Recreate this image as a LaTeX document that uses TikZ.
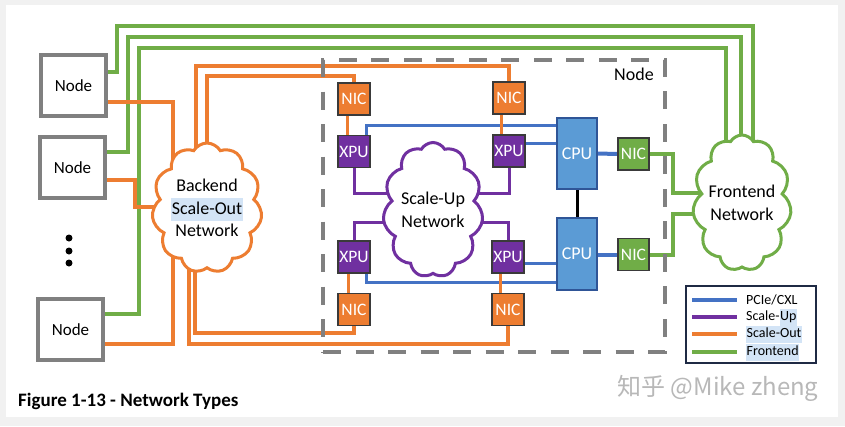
\documentclass[tikz,border=0pt]{standalone}
\usepackage{fontspec}
\setmainfont{Carlito}
\newfontfamily\cjk{Noto Sans CJK SC}
\usetikzlibrary{shapes.symbols,backgrounds}
\definecolor{ora}{HTML}{ED7D31}
\definecolor{grn}{HTML}{70AD47}
\definecolor{blu}{HTML}{4472C4}
\definecolor{pur}{HTML}{7030A0}
\definecolor{cpublue}{HTML}{5B9BD5}
\definecolor{cpuborder}{HTML}{2F5597}
\definecolor{chipborder}{HTML}{3A3A3A}
\definecolor{nodegray}{HTML}{808080}
\definecolor{legborder}{HTML}{1F2A44}
\definecolor{hl}{HTML}{D3E4F6}
\definecolor{outerbg}{HTML}{F1F1F1}
\definecolor{wmgray}{HTML}{B8B8B8}
\newcommand\hlt[1]{{\setlength{\fboxsep}{0.5pt}\colorbox{hl}{\strut #1}}}
\begin{document}
\begin{tikzpicture}[x=1pt,y=-1pt,
  nodebox/.style={draw=nodegray,line width=3.5pt,fill=white,minimum width=65pt,minimum height=61pt,inner sep=0pt,font=\fontsize{17}{20}\selectfont},
  chip/.style={line width=1.4pt,draw=chipborder,text=white,inner sep=0pt,font=\fontsize{17.5}{19}\selectfont,minimum width=32pt,minimum height=32pt},
  nicbox/.style={chip,fill=ora},
  xpubox/.style={chip,fill=pur},
  cpubox/.style={chip,fill=cpublue,draw=cpuborder,minimum width=40pt,minimum height=71pt,font=\fontsize{18}{20}\selectfont},
  gnicbox/.style={chip,fill=grn,minimum width=31pt},
  cloudnet/.style={cloud,cloud puffs=11,cloud puff arc=120,cloud ignores aspect,fill=white,line width=3pt,align=center,inner sep=0pt,font=\fontsize{18}{22.5}\selectfont},
  oline/.style={ora,line width=4pt},
  gline/.style={grn,line width=4pt},
  bline/.style={blu,line width=3pt},
  pline/.style={pur,line width=3pt},
  legtext/.style={anchor=west,inner sep=0pt,font=\fontsize{14}{16}\selectfont},
]
\useasboundingbox (0,0) rectangle (845,426);
% nodes
\node[nodebox] (n1) at (73.5,85.5) {Node};
\node[nodebox] (n2) at (72.5,167.5) {Node};
\node[nodebox] (n3) at (70.5,329.5) {Node};
\node[cloudnet,draw=ora,minimum width=100pt,minimum height=130pt] (bcloud) at (207,208) {Backend\\\hlt{Scale-Out}\\Network};
\node[cloudnet,draw=pur,minimum width=100pt,minimum height=135pt] (ucloud) at (433,210) {Scale-Up\\Network};
\node[cloudnet,draw=grn,minimum width=94pt,minimum height=136pt] (fcloud) at (742,203) {Frontend\\Network};
\node[nicbox] (nictl) at (354,99) {NIC};
\node[nicbox] (nictr) at (509,98) {NIC};
\node[nicbox] (nicbl) at (354,309.5) {NIC};
\node[nicbox] (nicbr) at (508,309.5) {NIC};
\node[xpubox] (xputl) at (354,151.5) {XPU};
\node[xpubox] (xputr) at (509,151) {XPU};
\node[xpubox] (xpubl) at (354,257) {XPU};
\node[xpubox] (xpubr) at (508,257) {XPU};
\node[cpubox] (cput) at (577,153.5) {CPU};
\node[cpubox,minimum height=72pt] (cpub) at (577,254) {CPU};
\node[gnicbox] (gnict) at (633.5,154) {NIC};
\node[gnicbox] (gnicb) at (633.5,254.5) {NIC};
\node[draw=nodegray,line width=4pt,dash pattern=on 18pt off 14.5pt,minimum width=342pt,minimum height=292pt,inner sep=0pt] (frame) at (494,206) {};
\node[font=\fontsize{18}{20}\selectfont,inner sep=0pt] (framelabel) at (634,74) {Node};
% dots
\fill (69,238) circle (3.5pt) (69,251) circle (3.5pt) (69,263) circle (3.5pt);
% legend
\node[draw=legborder,line width=1.5pt,fill=white,minimum width=130pt,minimum height=77pt,inner sep=0pt] (legend) at (751,324.5) {};
\draw[blu,line width=4pt] (692,300) -- (737,300);
\draw[pur,line width=4pt] (692,317) -- (737,317);
\draw[ora,line width=4pt] (692,334) -- (737,334);
\draw[grn,line width=4pt] (692,352) -- (737,352);
\node[legtext] (l1) at (746,300) {PCIe/CXL};
\node[legtext] (l2) at (746,317) {Scale-\hlt{Up}};
\node[legtext] (l3) at (746,334) {\hlt{Scale-Out}};
\node[legtext] (l4) at (746,352) {\hlt{Frontend}};
% caption and watermark
\node[anchor=west,inner sep=0pt,font=\bfseries\fontsize{19}{21}\selectfont] (cap) at (18,401) {Figure 1-13 - Network Types};
\node[text=wmgray,inner sep=0pt,font=\cjk\fontsize{24}{27}\selectfont] (wm) at (718,388) {知乎 @Mike zheng};
\begin{pgfonlayer}{background}
\fill[outerbg] (0,0) rectangle (845,426);
\fill[white] (6,5) rectangle (838,417);
% green frontend lines
\draw[gline] (n1.east |- 0,72) -- (117,72) -- (117,26) -- (753,26) -- (fcloud.center -| 753,0);
\draw[gline] (n2.east |- 0,152) -- (128,152) -- (128,37) -- (741,37) -- (fcloud.center -| 741,0);
\draw[gline] (n3.east |- 0,314) -- (139,314) -- (139,48) -- (726,48) -- (fcloud.center -| 726,0);
\draw[gline] (gnict.east) -- (673,154) -- (673,193) -- (fcloud.center |- 0,193);
\draw[gline] (gnicb.east) -- (673,254.5) -- (673,214) -- (fcloud.center |- 0,214);
% orange scale-out lines
\draw[oline] (n1.east |- 0,102) -- (173,102) -- (bcloud.center -| 173,0);
\draw[oline] (n2.east |- 0,180) -- (135,180) -- (135,207) -- (bcloud.center |- 0,207);
\draw[oline] (n3.east |- 0,344) -- (173,344) -- (bcloud.center -| 173,0);
\draw[oline] (bcloud.center -| 196,0) -- (196,66) -- (509,66) -- (nictr.north);
\draw[oline] (bcloud.center) -- (207,76) -- (354,76) -- (nictl.north);
\draw[oline] (bcloud.center -| 195,0) -- (195,333) -- (354,333) -- (nicbl.south);
\draw[oline] (bcloud.center -| 189,0) -- (189,344) -- (508,344) -- (nicbr.south);
% blue PCIe lines
\draw[bline] ([xshift=12pt]xputl.north) -- (366,125) -- (cput.west |- 0,125);
\draw[bline] (xputr.east |- 0,143) -- (cput.west |- 0,143);
\draw[bline] (xpubr.east |- 0,263) -- (cpub.west |- 0,263);
\draw[bline] ([xshift=12pt]xpubl.south) -- (366,282) -- (cpub.west |- 0,282);
\draw[bline,line width=4pt] (cput.east) -- (gnict.west);
\draw[bline,line width=4pt] (cpub.east |- gnicb.west) -- (gnicb.west);
\draw[black,line width=3pt] (cput.south) -- (cpub.north);
% purple scale-up lines
\draw[pline] (xputl.south) -- (354,193) -- (ucloud.center |- 0,193);
\draw[pline] (xputr.south) -- (509,193) -- (ucloud.center |- 0,193);
\draw[pline] (xpubl.north) -- (354,222) -- (ucloud.center |- 0,222);
\draw[pline] (xpubr.north) -- (508,222) -- (ucloud.center |- 0,222);
% NIC to XPU
\draw[ora,line width=3pt] ([xshift=-7pt]nictl.south) -- ([xshift=-7pt]xputl.north);
\draw[ora,line width=3pt] ([xshift=-8pt]nictr.south) -- ([xshift=-8pt]xputr.north);
\draw[ora,line width=3pt] ([xshift=-6pt]xpubl.south) -- ([xshift=-6pt]nicbl.north);
\draw[ora,line width=3pt] ([xshift=-8pt]xpubr.south) -- ([xshift=-8pt]nicbr.north);
\end{pgfonlayer}
\end{tikzpicture}
\end{document}
